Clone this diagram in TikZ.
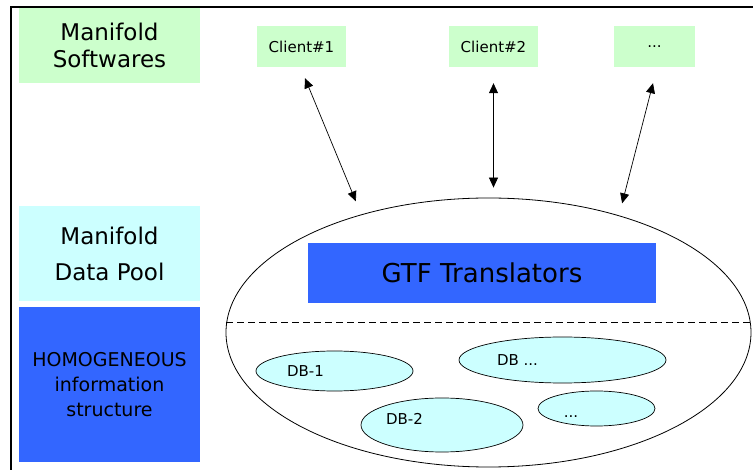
\documentclass[tikz,border=0pt]{standalone}
\usepackage{fontspec}
\setmainfont{DejaVu Sans}
\usetikzlibrary{shapes.geometric,arrows.meta}
\definecolor{softgreen}{HTML}{CCFFCC}
\definecolor{poolcyan}{HTML}{CCFFFF}
\definecolor{homblue}{HTML}{3366FF}

\begin{document}
\begin{tikzpicture}[x=1pt,y=-1pt,
  layer/.style={shape=rectangle,inner sep=0pt,minimum width=181pt,align=center},
  client/.style={shape=rectangle,fill=softgreen,inner sep=0pt,minimum height=41pt,font=\fontsize{15}{17}\selectfont},
  db/.style={shape=ellipse,draw,fill=poolcyan,inner sep=0pt,line width=0.7pt},
  dbtext/.style={inner sep=0pt,font=\fontsize{15}{18}\selectfont},
  link/.style={{Triangle[length=10pt,width=9pt]}-{Triangle[length=10pt,width=9pt]},line width=0.7pt}]
\useasboundingbox (0,0) rectangle (753,470);

% frame
\draw[line width=1.2pt] (11,470) -- (11,7) -- (753,7);

% layers on the left
\node(soft) at (109.5,45.5)[layer,fill=softgreen,minimum height=75pt,font=\fontsize{23}{27}\selectfont] {Manifold\\Softwares};
\node(pool) at (109.5,253.5)[layer,fill=poolcyan,minimum height=95pt,font=\fontsize{23}{36}\selectfont] {Manifold\\Data Pool};
\node(homog) at (109.5,384.5)[layer,fill=homblue,minimum height=155pt,font=\fontsize{19}{25}\selectfont] {HOMOGENEOUS\\information\\structure};

% clients
\node(client1) at (301.5,46.5)[client,minimum width=89pt] {Client\#1};
\node(client2) at (493.5,46.5)[client,minimum width=89pt] {Client\#2};
\node(client3) at (654.5,46.5)[client,minimum width=81pt] {...};

% data pool
\node(datapool) at (488.5,332.5)[shape=ellipse,draw,inner sep=0pt,line width=0.8pt,minimum width=525pt,minimum height=269pt] {};
\node(gtf) at (482,273)[shape=rectangle,fill=homblue,inner sep=0pt,minimum width=348pt,minimum height=60pt,font=\fontsize{26}{30}\selectfont] {GTF Translators};
\draw[dash pattern=on 7pt off 4pt,line width=0.8pt] ([xshift=0.5pt,yshift=10.5pt]datapool.west) -- ([xshift=-0.5pt,yshift=10.5pt]datapool.east);

\node(db1) at (334.5,371)[db,minimum width=157pt,minimum height=40pt] {};
\node(dbmore) at (562.5,360)[db,minimum width=207pt,minimum height=46pt] {};
\node(db2) at (442,425)[db,minimum width=162pt,minimum height=54pt] {};
\node(dbdots) at (596.5,408.5)[db,minimum width=117pt,minimum height=35pt] {};
\node(db1text) at (305.5,371.5)[dbtext] {DB-1};
\node(dbmoretext) at (517.5,360)[dbtext] {DB ...};
\node(db2text) at (404.5,418.5)[dbtext] {DB-2};
\node(dbdotstext) at (571,417)[dbtext] {...};

\path [link]
  ([xshift=3.5pt,yshift=-11pt]client1.south)  edge  ([xshift=1pt,yshift=15pt]datapool.139)
  ([yshift=-16pt]client2.south)               edge  ([yshift=10pt]client2.south |- datapool.north)
  ([xshift=-1.5pt,yshift=-16pt]client3.south) edge  ([yshift=13pt]datapool.41);
\end{tikzpicture}
\end{document}
